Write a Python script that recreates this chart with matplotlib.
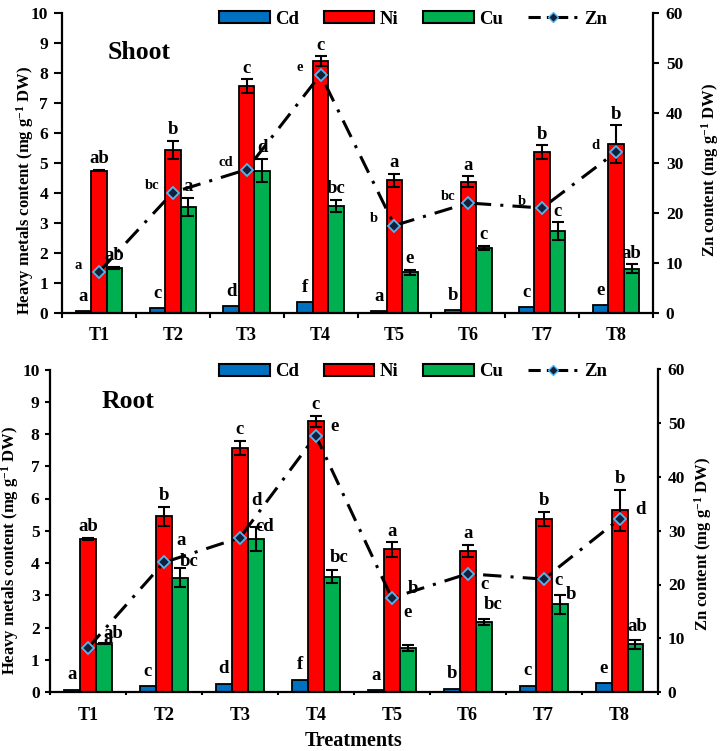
import matplotlib
matplotlib.use("Agg")
import matplotlib.pyplot as plt
import numpy as np
from matplotlib.lines import Line2D
from matplotlib.patches import Patch

plt.rcParams['font.family'] = ['Liberation Serif', 'DejaVu Serif']
plt.rcParams['font.weight'] = 'bold'
plt.rcParams['mathtext.fontset'] = 'custom'
plt.rcParams['mathtext.rm'] = 'Liberation Serif:bold'
plt.rcParams['mathtext.it'] = 'Liberation Serif:bold'
plt.rcParams['mathtext.bf'] = 'Liberation Serif:bold'
plt.rcParams['mathtext.default'] = 'rm'

# ---------------- data ----------------
treatments = ['T1', 'T2', 'T3', 'T4', 'T5', 'T6', 'T7', 'T8']
cd = [0.07, 0.18, 0.25, 0.38, 0.06, 0.10, 0.19, 0.28]
ni = [4.75, 5.45, 7.57, 8.40, 4.42, 4.38, 5.37, 5.63]
ni_err = [0.03, 0.30, 0.22, 0.17, 0.22, 0.18, 0.22, 0.64]
cu = [1.50, 3.55, 4.75, 3.58, 1.36, 2.17, 2.72, 1.48]
cu_err = [0.02, 0.30, 0.38, 0.20, 0.09, 0.08, 0.30, 0.14]
zn = [8.2, 24.1, 28.7, 47.7, 17.5, 22.0, 21.0, 32.2]

cd_letters = ['a', 'c', 'd', 'f', 'a', 'b', 'c', 'e']
ni_letters = ['ab', 'b', 'c', 'c', 'a', 'a', 'b', 'b']
cu_letters_shoot = ['ab', 'a', 'd', 'bc', 'e', 'c', 'c', 'ab']
zn_letters_shoot = ['a', 'bc', 'cd', 'e', 'b', 'bc', 'b', 'd']
cu_letters_root = ['ab', 'bc', 'cd', 'bc', 'e', 'bc', 'b', 'ab']
zn_letters_root = ['a', 'a', 'd', 'e', 'b', 'c', 'c', 'd']

# ---------------- style ----------------
C_CD = '#0070C0'
C_NI = '#FF0000'
C_CU = '#00B050'
W = 0.21
W_PX, H_PX = 725, 751

# label offsets (x in category units, y in left-axis units)
cu_off_shoot = [(0.0, 0.38)] * 8
zn_off_shoot = [(-0.28, 0.22)] * 8
cu_off_root = [(0.12, 0.30), (0.12, 0.20), (0.12, 0.0), (0.10, 0.40),
               (0.0, 1.0), (0.12, 0.45), (0.15, 0.0), (0.02, 0.40)]
zn_off_root = [(0.27, 0.29), (0.23, 0.67), (0.22, 1.15), (0.25, 0.28),
               (0.28, 0.29), (0.22, -0.33), (0.19, -0.03), (0.27, 0.29)]


def frac(l, t, r, b):
    return [l / W_PX, 1 - b / H_PX, (r - l) / W_PX, (b - t) / H_PX]


def panel(fig, rect, title, title_xy, cu_letters, zn_letters, cu_off, zn_off,
          zn_fs, xlabel, legend_y, tlen, lab_l, lab_r, xpad):
    ax = fig.add_axes(rect)
    x = np.arange(len(treatments)) + 0.5
    ekw = dict(ecolor='black', elinewidth=1.5, capsize=4, capthick=1.5)
    ax.bar(x - W, cd, W, color=C_CD, edgecolor='black', linewidth=1.3, zorder=2)
    ax.bar(x, ni, W, yerr=ni_err, color=C_NI, edgecolor='black', linewidth=1.3,
           error_kw=ekw, zorder=2)
    ax.bar(x + W, cu, W, yerr=cu_err, color=C_CU, edgecolor='black', linewidth=1.3,
           error_kw=ekw, zorder=2)
    ax.set_xlim(0, 8)
    ax.set_ylim(0, 10)
    ax.set_yticks(range(0, 11))
    ax.set_xticks(range(0, 9))
    ax.set_xticklabels([])
    ax.set_xticks(x, minor=True)
    ax.set_xticklabels(treatments, minor=True, fontsize=13, fontweight='bold')
    ax.tick_params(axis='x', which='minor', length=0, pad=xpad)
    ax.tick_params(axis='x', which='major', length=tlen * 0.6, width=1.5,
                   direction='out')
    ax.tick_params(axis='y', length=tlen, width=1.5, direction='out',
                   labelsize=12.5, pad=4)
    for s in ['top', 'right']:
        ax.spines[s].set_visible(False)
    for s in ['left', 'bottom']:
        ax.spines[s].set_linewidth(1.6)
    for lab in ax.get_yticklabels():
        lab.set_fontweight('bold')
    ax.set_ylabel(r'Heavy metals content (mg g$^{-1}$ DW)', fontsize=12,
                  fontweight='bold')
    ax.yaxis.set_label_coords(lab_l[0], lab_l[1])
    if xlabel:
        ax.set_xlabel(xlabel, fontsize=14.5, fontweight='bold', labelpad=5)

    # letters
    for i in range(8):
        ax.text(x[i] - W, cd[i] + 0.2, cd_letters[i], ha='center', va='bottom',
                fontsize=13.5, fontweight='bold')
        ax.text(x[i], ni[i] + ni_err[i] + 0.08, ni_letters[i], ha='center',
                va='bottom', fontsize=13.5, fontweight='bold')
        dx, dy = cu_off[i]
        ax.text(x[i] + W + dx, cu[i] + cu_err[i] + dy, cu_letters[i], ha='center',
                va='center', fontsize=13.5, fontweight='bold', zorder=5)

    ax2 = ax.twinx()
    ax2.set_ylim(0, 60)
    ax2.set_yticks(range(0, 61, 10))
    ax2.plot(x, zn, color='black', linewidth=2.2, linestyle=(0, (6, 3, 1, 3)),
             marker='D', markersize=6.5, markerfacecolor='#14213D',
             markeredgecolor='#4FB8F0', markeredgewidth=1.3, zorder=4)
    for s in ['top', 'left', 'bottom']:
        ax2.spines[s].set_visible(False)
    ax2.spines['right'].set_linewidth(1.6)
    ax2.tick_params(axis='y', length=tlen * 0.7, width=1.5, direction='out',
                    labelsize=12.5, pad=5)
    for lab in ax2.get_yticklabels():
        lab.set_fontweight('bold')
    ax2.set_ylabel(r'Zn content (mg g$^{-1}$ DW)', fontsize=12, fontweight='bold',
                   rotation=90)
    ax2.yaxis.set_label_coords(lab_r[0], lab_r[1])
    for i in range(8):
        dx, dy = zn_off[i]
        ax.text(x[i] + dx, zn[i] / 6 + dy, zn_letters[i], ha='center', va='center',
                fontsize=zn_fs, fontweight='bold', zorder=6)

    ax.text(title_xy[0], title_xy[1], title, fontsize=18.5, fontweight='bold',
            ha='left', va='center')

    handles = [Patch(facecolor=C_CD, edgecolor='black', linewidth=1.5, label='Cd'),
               Patch(facecolor=C_NI, edgecolor='black', linewidth=1.5, label='Ni'),
               Patch(facecolor=C_CU, edgecolor='black', linewidth=1.5, label='Cu'),
               Line2D([], [], color='black', linewidth=2.2, linestyle=(0, (4, 2, 1, 2)),
                      marker='D', markersize=5, markerfacecolor='#14213D',
                      markeredgecolor='#4FB8F0', label='Zn')]
    fig.legend(handles=handles, loc='center', ncol=4,
               bbox_to_anchor=(413 / W_PX, 1 - legend_y / H_PX), frameon=False,
               prop={'size': 13.5, 'weight': 'bold'}, handlelength=2.7,
               handleheight=0.6, columnspacing=1.3, handletextpad=0.3)
    return ax


fig = plt.figure(figsize=(7.25, 7.51), dpi=100)
panel(fig, frac(62, 13, 653, 313), 'Shoot', (0.62, 8.7),
      cu_letters_shoot, zn_letters_shoot, cu_off_shoot, zn_off_shoot, 10.5,
      None, 19, 6, (-0.044, 0.41), (1.078, 0.477), 10)
panel(fig, frac(50, 369.5, 657.5, 692), 'Root', (0.68, 9.0),
      cu_letters_root, zn_letters_root, cu_off_root, zn_off_root, 13.5,
      'Treatments', 372, 3.5, (-0.048, 0.44), (1.057, 0.46), 11)
fig.savefig('out.png', dpi=100)
